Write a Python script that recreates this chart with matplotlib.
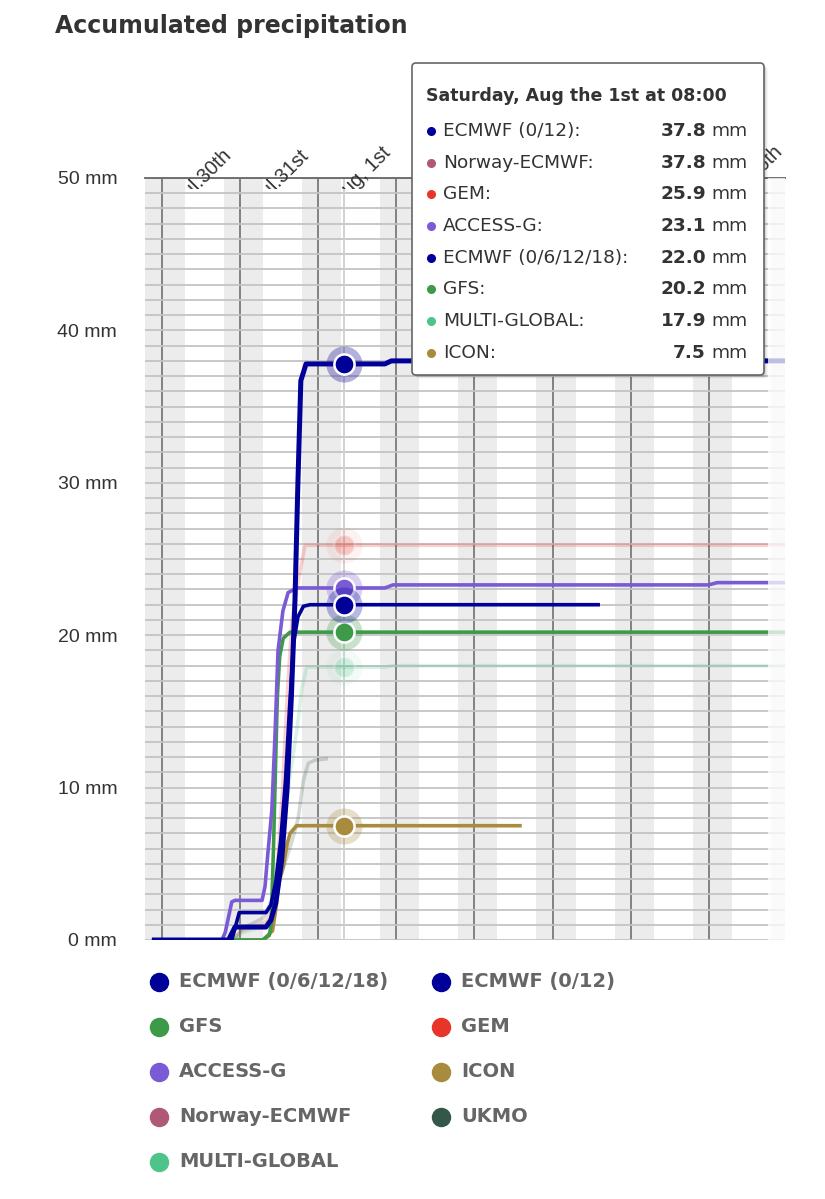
import numpy as np
import matplotlib
matplotlib.use('Agg')
import matplotlib.pyplot as plt
from matplotlib.patches import FancyBboxPatch
from matplotlib.lines import Line2D
from matplotlib.transforms import Bbox, TransformedBbox, blended_transform_factory
from matplotlib.ticker import MultipleLocator, FuncFormatter

plt.rcParams['font.family'] = ['Liberation Sans', 'DejaVu Sans']

# ---------------- data (hours since Jul 30 00:00, accumulated mm) ----------------
series_names = ['ECMWF (0/6/12/18)', 'ECMWF (0/12)', 'GFS', 'GEM', 'ACCESS-G',
                'ICON', 'Norway-ECMWF', 'UKMO', 'MULTI-GLOBAL']
series_colors = ['#000099', '#000099', '#3d9a48', '#e8352a', '#7b5ad6',
                 '#a88b3d', '#b05878', '#33584a', '#4ec48a']

hours_ecmwf_4runs = [-3, 21.5, 23.8, 32, 33.5, 35, 36.5, 38, 39.3, 40.5, 41.8, 43.5, 45.5, 134.5]
mm_ecmwf_4runs = [0, 0, 1.8, 1.8, 2.3, 3.8, 6.5, 10.5, 15.5, 19.5, 21.2, 21.9, 22.0, 22.0]

hours_ecmwf_2runs = [-3, 20.5, 22.5, 32, 33.5, 35, 36.8, 38.5, 39.8, 40.9, 41.8, 42.7, 44.3, 68.5, 70.5, 191.5]
mm_ecmwf_2runs = [0, 0, 0.85, 0.85, 1.3, 2.4, 5.2, 10, 16, 22.3, 30, 36.7, 37.8, 37.8, 38.0, 38.0]

hours_gfs = [-3, 31, 33, 33.6, 34.3, 35, 35.5, 36.2, 37.3, 39.4, 191.5]
mm_gfs = [0, 0, 0.3, 1, 6, 12, 16, 18.6, 19.8, 20.2, 20.2]

hours_gem = [-3, 22, 24.5, 30, 32.5, 34, 35.5, 37, 38.5, 40, 41.9, 44, 191.5]
mm_gem = [0, 0, 0.6, 1.0, 1.3, 2.5, 5, 9.5, 16, 21, 23.6, 25.9, 25.9]

hours_access = [-3, 18.5, 19.5, 21.5, 22.5, 30.8, 31.7, 32.5, 33.8, 34.8, 35.7, 37.2, 38.8, 41.5,
                68.5, 71, 167.8, 170.5, 191.5]
mm_access = [0, 0, 0.5, 2.5, 2.6, 2.6, 3.5, 5.5, 8.5, 13.6, 19.0, 21.6, 22.8, 23.1,
             23.1, 23.3, 23.3, 23.45, 23.45]

hours_icon = [-3, 31, 32.5, 34, 35, 36, 37.3, 38.5, 39.4, 41.4, 110.5]
mm_icon = [0, 0, 0.3, 0.6, 2, 3.8, 4.8, 6.3, 7.0, 7.5, 7.5]

hours_norway = [-3, 21, 23, 32, 33.5, 35, 36.8, 38.5, 39.8, 40.9, 41.8, 42.7, 44.3, 66]
mm_norway = [0, 0, 0.9, 0.9, 1.4, 2.6, 5.4, 10.2, 16.2, 22.5, 30.2, 36.8, 37.8, 37.8]

hours_ukmo = [-3, 22, 25, 29, 31.5, 34, 37, 40, 41.9, 43.5, 45, 47, 51]
mm_ukmo = [0, 0, 0.8, 1.2, 1.5, 2.8, 4.5, 6.5, 8.0, 10.5, 11.6, 11.8, 11.9]

hours_multi = [-3, 22, 25, 31.5, 33.5, 35.5, 37.5, 39.5, 41.4, 43, 44.5, 68.5, 71, 191.5]
mm_multi = [0, 0, 0.5, 0.9, 1.5, 4, 7.5, 11, 13.6, 16.5, 17.9, 17.9, 18.0, 18.0]

series_hours = [hours_ecmwf_4runs, hours_ecmwf_2runs, hours_gfs, hours_gem, hours_access,
                hours_icon, hours_norway, hours_ukmo, hours_multi]
series_mm = [mm_ecmwf_4runs, mm_ecmwf_2runs, mm_gfs, mm_gem, mm_access,
             mm_icon, mm_norway, mm_ukmo, mm_multi]

day_hours = [0, 24, 48, 72, 96, 120, 144, 168]
day_labels = ['Jul.30th', 'Jul.31st', 'Aug, 1st', 'Aug, 2nd', 'Aug, 3rd',
              'Aug, 4th', 'Aug, 5th', 'Aug, 6th']
hover_hour = 56
hover_title = 'Saturday, Aug the 1st at 08:00'
faded_series = ['GEM', 'Norway-ECMWF', 'UKMO', 'MULTI-GLOBAL']

# ---------------- figure ----------------
W, H = 825, 1199
fig = plt.figure(figsize=(W / 100, H / 100), dpi=100)
fig.patch.set_facecolor('white')
IN = fig.dpi_scale_trans


def P(x, y):
    return (x / 100, (H - y) / 100)


ax = fig.add_axes([145 / W, 1 - 940 / H, 640 / W, 762 / H])
ax.set_xlim(-5.13, 191.3)
ax.set_ylim(0, 50)
ax.set_facecolor('white')

for d in range(-24, 193, 24):
    ax.axvspan(d - 5, d + 7, color='#ececec', lw=0, zorder=0.1)

ax.set_axisbelow(True)
ax.yaxis.set_major_locator(MultipleLocator(10))
ax.yaxis.set_minor_locator(MultipleLocator(1))
ax.yaxis.set_major_formatter(FuncFormatter(lambda v, p: f'{v:.0f} mm'))
ax.tick_params(axis='y', which='both', length=0, pad=20, labelsize=14, labelcolor='#333333')
ax.grid(axis='y', which='both', color='#c4c4c4', lw=1.3)
ax.set_xticks(day_hours)
ax.tick_params(axis='x', length=0, labelbottom=False)
ax.grid(axis='x', which='major', color='#707070', lw=1.2)
for s in ['left', 'right', 'bottom']:
    ax.spines[s].set_visible(False)
ax.spines['top'].set_color('#666666')
ax.spines['top'].set_linewidth(1.3)

ax.axvline(hover_hour, color='#cfcfcf', lw=1.3, zorder=1)

z_order = {'Norway-ECMWF': 2, 'UKMO': 2.1, 'GEM': 2.2, 'MULTI-GLOBAL': 2.3, 'ICON': 3,
           'GFS': 3.1, 'ACCESS-G': 3.2, 'ECMWF (0/6/12/18)': 3.4, 'ECMWF (0/12)': 3.5}
hover_vals = {}
for name, col, hx, mm in zip(series_names, series_colors, series_hours, series_mm):
    faded = name in faded_series
    a = 0.22 if faded else 1.0
    lw = 3.6 if name == 'ECMWF (0/12)' else 2.6
    z = z_order[name]
    ax.plot(hx, mm, color=col, lw=lw, alpha=a, zorder=z, solid_joinstyle='round',
            solid_capstyle='butt')
    if hx[0] <= hover_hour <= hx[-1]:
        v = float(np.interp(hover_hour, hx, mm))
        hover_vals[name] = v
        ax.plot([hover_hour], [v], 'o', ms=26, color=col, alpha=0.28 * a, mec='none', zorder=z + 5)
        ax.plot([hover_hour], [v], 'o', ms=14.5, mfc=col, mec='white', mew=1.8,
                alpha=a, zorder=z + 5.05)

# faded strip at right edge
ax.axvspan(186.1, 192, color='white', alpha=0.75, lw=0, zorder=30)

# top date labels (partially hidden)
clip = TransformedBbox(Bbox([[0, 1 - 189 / H], [1, 1]]), fig.transFigure)
btr = blended_transform_factory(ax.transData, fig.transFigure)
for dh, lab in zip(day_hours, day_labels):
    t = fig.text(dh + 6.8, 1 - 205 / H, lab, transform=btr, rotation=45,
                 rotation_mode='anchor', ha='left', va='baseline', fontsize=14.2,
                 color='#333333')
    t.set_clip_box(clip)
    t.set_clip_on(True)

# title
fig.text(55 / 100, (H - 33) / 100, 'Accumulated precipitation', transform=IN,
         fontsize=17, fontweight='bold', family='DejaVu Sans', color='#333333', va='baseline')

# tooltip
tx0, ty0, tx1, ty1 = 412, 63, 764, 375
for off, al in [(4, 0.03), (3, 0.05), (2, 0.07), (1, 0.09)]:
    sh = FancyBboxPatch(P(tx0 + off, ty1 + off), (tx1 - tx0) / 100, (ty1 - ty0) / 100,
                        boxstyle='round,pad=0,rounding_size=0.04', transform=IN,
                        facecolor='black', edgecolor='none', alpha=al, zorder=9)
    fig.add_artist(sh)
box = FancyBboxPatch(P(tx0, ty1), (tx1 - tx0) / 100, (ty1 - ty0) / 100,
                     boxstyle='round,pad=0,rounding_size=0.04', transform=IN,
                     facecolor='white', edgecolor='#666666', lw=1.2, zorder=10)
fig.add_artist(box)
fig.text(*P(426, 96), hover_title, transform=IN, fontsize=12.5, fontweight='bold',
         family='DejaVu Sans', color='#333333', va='center', zorder=11)

order = sorted(hover_vals.keys(), key=lambda n: -round(hover_vals[n], 1))
row_y0, row_dy = 131, 31.7
for i, name in enumerate(order):
    y = row_y0 + i * row_dy
    col = series_colors[series_names.index(name)]
    fig.add_artist(Line2D([431 / 100], [(H - y) / 100], transform=IN, marker='o', ms=5.5,
                          color=col, ls='', zorder=11))
    fig.text(*P(443, y), name + ':', transform=IN, fontsize=13.3, family='DejaVu Sans',
             color='#333333', va='center', zorder=11)
    fig.text(*P(706, y), f'{hover_vals[name]:.1f}', transform=IN, fontsize=13.3,
             fontweight='bold', family='DejaVu Sans', color='#333333', va='center',
             ha='right', zorder=11)
    fig.text(*P(711, y), 'mm', transform=IN, fontsize=13.3, family='DejaVu Sans',
             color='#333333', va='center', ha='left', zorder=11)

# legend (two columns, row-wise order)
leg_x = [159, 441]
leg_y0, leg_dy = 981.5, 45
for i, (name, col) in enumerate(zip(series_names, series_colors)):
    cx = leg_x[i % 2]
    cy = leg_y0 + (i // 2) * leg_dy
    fig.add_artist(Line2D([cx / 100], [(H - cy) / 100], transform=IN, marker='o', ms=13,
                          color=col, ls=''))
    fig.text(*P(cx + 20, cy), name, transform=IN, fontsize=14, fontweight='bold',
             family='DejaVu Sans', color='#666666', va='center')

fig.savefig('out.png', dpi=100, facecolor='white')
